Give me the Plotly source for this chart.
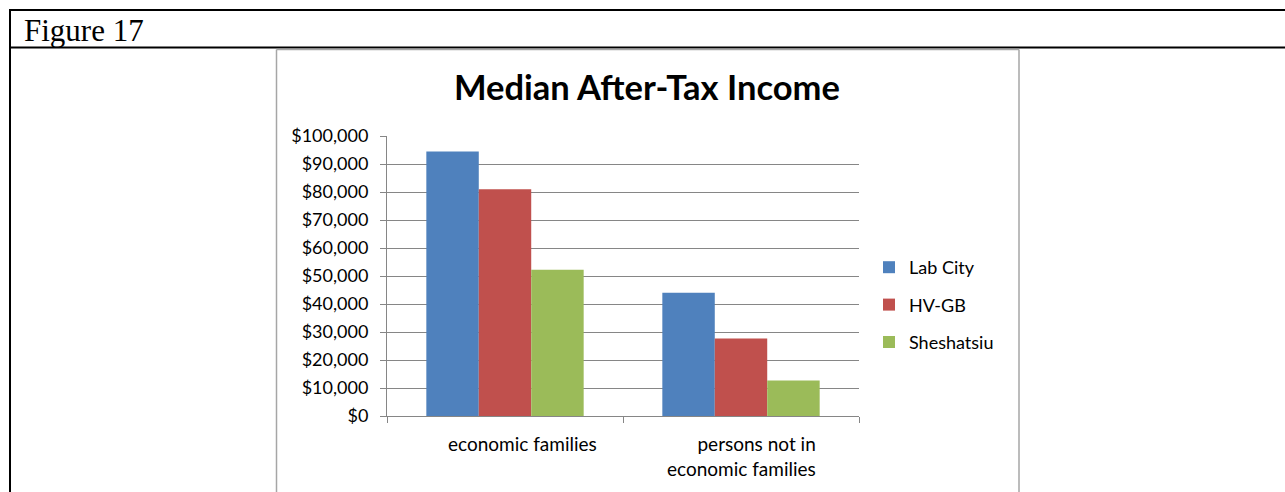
import plotly.graph_objects as go

# Data
categories = ["economic families", "persons not in economic families"]
category_labels = ["economic families", "persons not in<br>economic families"]
series_names = ["Lab City", "HV-GB", "Sheshatsiu"]
lab_city = [94500, 44000]
hv_gb = [81000, 27700]
sheshatsiu = [52200, 12700]
series_values = [lab_city, hv_gb, sheshatsiu]
series_colors = ["#4F81BD", "#C0504D", "#9BBB59"]
y_ticks = list(range(0, 100001, 10000))

# Page geometry (pixels)
W, H = 1285, 492
PL, PR, PT, PB = 387, 859, 136, 416  # plot area edges

def px(x):
    return (x - PL) / (PR - PL)

def py(y):
    return (PB - y) / (PB - PT)

FONT = "Lato"

fig = go.Figure()
for i, (name, vals, col) in enumerate(zip(series_names, series_values, series_colors)):
    fig.add_trace(go.Bar(
        x=categories, y=vals, name=name,
        marker=dict(color=col, line=dict(width=0)),
        legendgroup=f"g{i}",
    ))

shapes = []
# Outer table frame
shapes.append(dict(type="line", xref="paper", yref="paper", x0=px(10), x1=px(W + 5),
                   y0=py(10), y1=py(10), line=dict(color="black", width=2)))
shapes.append(dict(type="line", xref="paper", yref="paper", x0=px(10), x1=px(W + 5),
                   y0=py(47.5), y1=py(47.5), line=dict(color="black", width=2)))
shapes.append(dict(type="line", xref="paper", yref="paper", x0=px(10), x1=px(10),
                   y0=py(9), y1=py(H + 5), line=dict(color="black", width=2)))
# Chart area box
shapes.append(dict(type="line", xref="paper", yref="paper", x0=px(276.5), x1=px(1019),
                   y0=py(49.5), y1=py(49.5), line=dict(color="#a6a6a6", width=1.5)))
shapes.append(dict(type="line", xref="paper", yref="paper", x0=px(276.5), x1=px(276.5),
                   y0=py(49.5), y1=py(H + 5), line=dict(color="#a6a6a6", width=1.5)))
shapes.append(dict(type="line", xref="paper", yref="paper", x0=px(1019), x1=px(1019),
                   y0=py(49.5), y1=py(H + 5), line=dict(color="#a6a6a6", width=1.5)))

annotations = [
    dict(text="Figure 17", xref="paper", yref="paper", x=px(22), y=py(30),
         xanchor="left", yanchor="middle", showarrow=False,
         font=dict(family="Liberation Serif", size=31, color="black")),
    dict(text="<b>Median After-Tax Income</b>", xref="paper", yref="paper",
         x=px(646.5), y=py(86), xanchor="center", yanchor="middle", showarrow=False,
         font=dict(family=FONT, size=34.5, color="black")),
]
# Category labels under the axis
label_shift = [17, 0]
for cat, lab, sh in zip(categories, category_labels, label_shift):
    annotations.append(dict(text=lab, xref="x", yref="paper", x=cat, y=py(430),
                            xanchor="center", yanchor="top", xshift=sh, align="right",
                            showarrow=False, font=dict(family=FONT, size=19, color="black")))

fig.update_layout(
    width=W, height=H,
    margin=dict(l=PL, r=W - PR, t=PT, b=H - PB, pad=0),
    paper_bgcolor="white", plot_bgcolor="white",
    barmode="group", bargap=1 / 3, bargroupgap=0,
    font=dict(family=FONT, size=18, color="black"),
    showlegend=True,
    legend=dict(x=px(869), y=py(249), xanchor="left", yanchor="top",
                font=dict(family=FONT, size=18, color="black"),
                tracegroupgap=11, bgcolor="rgba(0,0,0,0)"),
    shapes=shapes, annotations=annotations,
)
fig.update_xaxes(
    type="category", showline=True, linecolor="#868686", linewidth=1,
    ticks="outside", tickson="boundaries", ticklen=6, tickcolor="#868686",
    showticklabels=False, showgrid=False, zeroline=False,
)
fig.update_yaxes(
    range=[0, 100000], tickvals=y_ticks, tickformat="$,.0f",
    showline=True, linecolor="#868686", linewidth=1,
    ticks="outside", ticklen=6, tickcolor="#868686",
    showgrid=True, gridcolor="#868686", gridwidth=1, zeroline=False,
    ticklabelstandoff=8, tickfont=dict(family=FONT, size=18, color="black"),
)

fig.write_html("out.html")
